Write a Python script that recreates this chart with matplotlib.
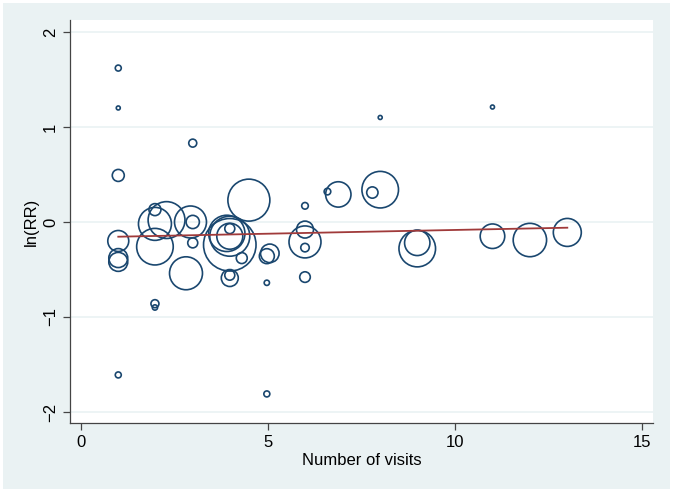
import matplotlib
matplotlib.use("Agg")
import matplotlib.pyplot as plt
import numpy as np
from matplotlib.patches import Rectangle

# study-level data: visits, log relative risk, study weight (bubble area)
visits = [1, 1, 1, 1, 1, 1, 1,
          1.98, 1.98, 2.29, 1.98, 1.98, 1.98,
          2.93, 2.99, 2.99, 2.81, 2.99,
          4.49, 3.98, 3.98, 3.9, 3.98, 3.98, 4.3, 3.98, 3.98,
          4.97, 5.05, 4.97, 4.97,
          5.99, 5.99, 5.99, 5.99, 5.99,
          6.59, 6.88, 8.0, 7.79, 8.0,
          8.99, 8.99, 11.0, 11.0, 12.0, 13.0]
lnrr = [1.62, 1.20, 0.49, -0.20, -0.38, -0.42, -1.61,
        0.13, -0.02, 0.02, -0.26, -0.86, -0.90,
        0.0, 0.0, -0.22, -0.54, 0.83,
        0.23, -0.15, -0.24, -0.12, -0.15, -0.07, -0.38, -0.59, -0.56,
        -0.64, -0.33, -0.36, -1.81,
        0.17, -0.08, -0.21, -0.27, -0.58,
        0.32, 0.29, 0.34, 0.31, 1.10,
        -0.28, -0.22, -0.15, 1.21, -0.19, -0.11]
weight = [9, 4, 36, 110, 90, 90, 9,
          36, 272, 340, 335, 16, 7,
          256, 44, 25, 272, 16,
          441, 400, 690, 330, 169, 25, 30, 72, 25,
          7, 86, 56, 9,
          11, 72, 256, 18, 28,
          11, 161, 335, 32, 4,
          335, 161, 151, 4, 279, 196]

# meta-regression fit
intercept = -0.163
slope = 0.0079

navy = "#1a476f"
maroon = "#a03a3a"
bg = "#eaf2f3"

fig = plt.figure(figsize=(6.74, 4.93), dpi=100)
fig.patch.set_facecolor("white")
fig.patches.append(Rectangle((3 / 674, 1 - 489 / 493), 667 / 674, 486 / 493,
                             transform=fig.transFigure, facecolor=bg,
                             edgecolor="none", zorder=-10))

ax = fig.add_axes([70 / 674, 1 - 423 / 493, 583 / 674, 403 / 493])
ax.set_facecolor("white")

s = 2.07 * np.array(weight)
ax.scatter(visits, lnrr, s=s, facecolors="none", edgecolors=navy,
           linewidths=1.2, zorder=3, clip_on=False)

xfit = np.array([min(visits), max(visits)])
ax.plot(xfit, intercept + slope * xfit, color=maroon, lw=1.3, zorder=4)

ax.set_xlim(-0.29, 15.29)
ax.set_ylim(-2.116, 2.126)
ax.set_xticks([0, 5, 10, 15])
ax.set_yticks([-2, -1, 0, 1, 2])
ax.set_yticklabels(["\u22122", "\u22121", "0", "1", "2"], rotation=90, va="center")
ax.grid(axis="y", color=bg, lw=1.2, zorder=0)
ax.set_axisbelow(True)

for side in ["top", "right"]:
    ax.spines[side].set_visible(False)
for side in ["left", "bottom"]:
    ax.spines[side].set_color("#444444")
    ax.spines[side].set_linewidth(0.9)
ax.tick_params(length=5, width=0.9, color="#444444", labelsize=12,
               labelcolor="black")
for lab in ax.get_xticklabels() + ax.get_yticklabels():
    lab.set_family("Liberation Sans")

ax.set_xlabel("Number of visits", fontsize=12, family="Liberation Sans", labelpad=2)
ax.set_ylabel("ln(RR)", fontsize=12, family="Liberation Sans", labelpad=3)

fig.savefig("out.png", dpi=100)
